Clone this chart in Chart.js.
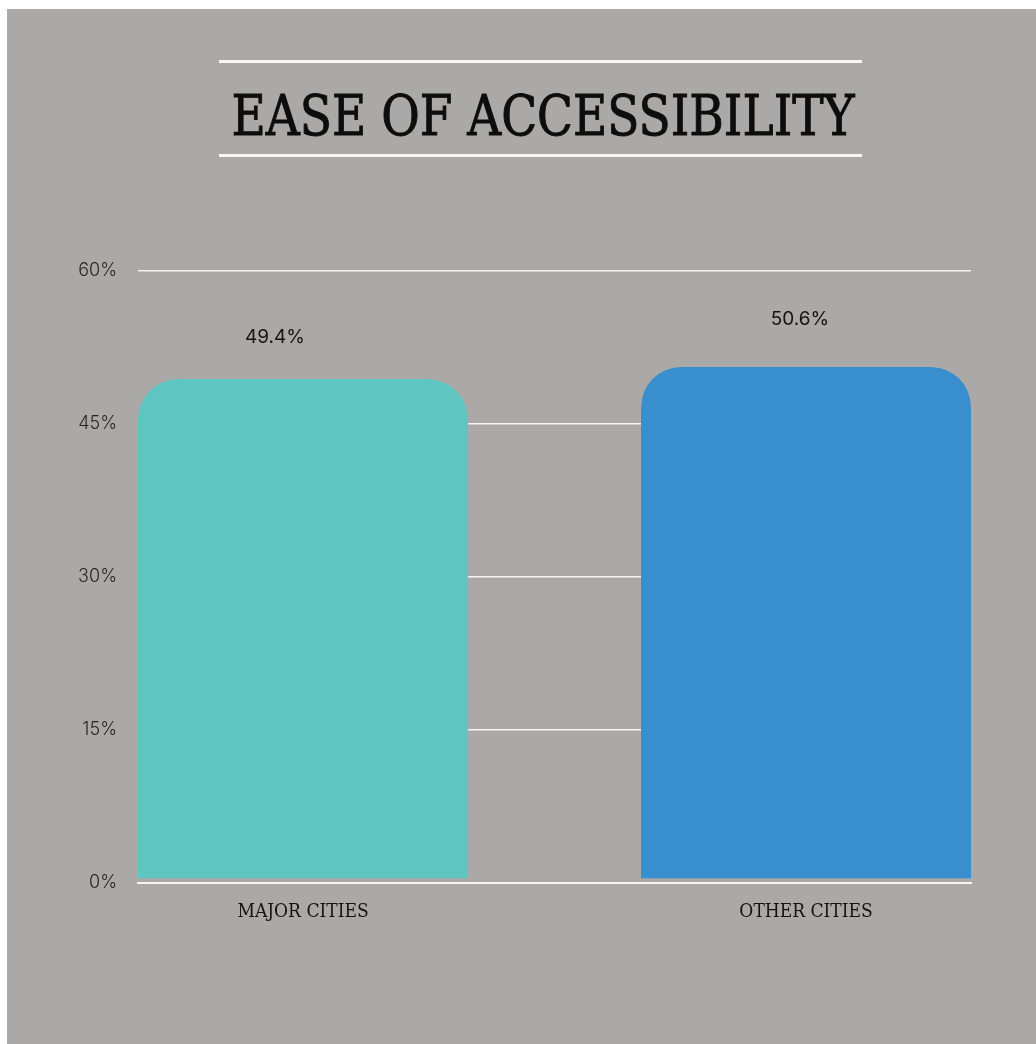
<!DOCTYPE html>
<html>
<head>
<meta charset="utf-8">
<script src="https://cdn.jsdelivr.net/npm/chart.js@4.4.1/dist/chart.umd.min.js"></script>
<style>
  html, body { margin: 0; padding: 0; background: #ffffff; }
  body { width: 1036px; height: 1044px; position: relative; overflow: hidden; }
  #bg { position: absolute; left: 7px; top: 9px; right: 0; bottom: 0; background: #aaa9a7; }
  .rule { position: absolute; left: 219px; width: 643px; height: 3px; background: #f7f7f7; }
  #titleBox { position: absolute; left: 0; width: 1036px; top: 79px; height: 74px; text-align: center; }
  #title { display: inline-block; font-family: 'DejaVu Serif Condensed', 'DejaVu Serif', serif; font-stretch: condensed; font-weight: normal; font-size: 56px; line-height: 74px; color: #0d0d0d; -webkit-text-stroke: 0.9px #0d0d0d; white-space: nowrap; transform-origin: 50% 50%; position: relative; left: 25px; }
  #wrap { position: absolute; left: 0; top: 0; width: 1036px; height: 1044px; }
</style>
</head>
<body>
<div id="bg"></div>
<div class="rule" style="top:60px"></div>
<div class="rule" style="top:154px"></div>
<div id="titleBox"><span id="title">EASE OF ACCESSIBILITY</span></div>
<div id="wrap"><canvas id="c"></canvas></div>
<script>
// ---- data ----
const categories = ['MAJOR CITIES', 'OTHER CITIES'];
const values = [49.4, 50.6];
const valueLabels = ['49.4%', '50.6%'];
const barColors = ['#5fc5c1', '#398ecd'];
const yTicks = [0, 15, 30, 45, 60];

// fit title width
(function () {
  const t = document.getElementById('title');
  const w = t.getBoundingClientRect().width;
  t.style.transform = 'scaleX(' + (623 / w) + ')';
})();

const BG = '#aaa9a7';

const valueLabelPlugin = {
  id: 'valueLabels',
  afterDatasetsDraw(chart, args, opts) {
    const ctx = chart.ctx;
    const meta = chart.getDatasetMeta(0);
    ctx.save();
    ctx.font = '400 19px Inter, "Noto Sans", sans-serif';
    ctx.fillStyle = '#151515';
    ctx.textAlign = 'center';
    ctx.textBaseline = 'middle';
    meta.data.forEach((bar, i) => {
      const off = opts.offsets[i] || { x: 0, y: -45 };
      ctx.fillText(valueLabels[i], bar.x + off.x, bar.y + off.y);
    });
    ctx.restore();
  }
};

new Chart(document.getElementById('c'), {
  type: 'bar',
  data: {
    datasets: [{
      data: categories.map((c, i) => ({ x: i, y: values[i] })),
      backgroundColor: barColors,
      borderColor: BG,
      borderWidth: { top: 0, left: 0, right: 0, bottom: 4 },
      borderSkipped: false,
      borderRadius: { topLeft: 40, topRight: 40, bottomLeft: 0, bottomRight: 0 },
      categoryPercentage: 0.656,
      barPercentage: 1
    }]
  },
  options: {
    responsive: true,
    maintainAspectRatio: false,
    animation: false,
    events: [],
    layout: { padding: { top: 271, right: 65, left: 0, bottom: 0 } },
    plugins: {
      legend: { display: false },
      tooltip: { enabled: false },
      valueLabels: { offsets: [{ x: -28, y: -42 }, { x: -6, y: -48 }] }
    },
    scales: {
      x: {
        type: 'linear',
        min: -0.328,
        max: 1.328,
        offset: false,
        grid: { display: false, drawTicks: false },
        border: { display: true, color: '#f4f4f4', width: 2, z: 1 },
        afterBuildTicks(axis) { axis.ticks = categories.map((c, i) => ({ value: i })); },
        afterFit(axis) { axis.height = 161; },
        ticks: {
          autoSkip: false,
          maxRotation: 0,
          padding: 18,
          color: '#141414',
          font: { family: "'DejaVu Serif Condensed', 'DejaVu Serif', serif", size: 19, style: 'normal condensed' },
          callback: (v) => categories[v]
        }
      },
      y: {
        min: 0,
        max: 60,
        afterBuildTicks(axis) { axis.ticks = yTicks.map(v => ({ value: v })); },
        afterFit(axis) { axis.width = 138; },
        grid: { color: '#f4f4f4', lineWidth: 1.5, drawTicks: false },
        border: { display: false },
        ticks: {
          padding: 21,
          color: '#262626',
          font: { family: 'Inter, "Noto Sans", sans-serif', size: 18, weight: 300 },
          callback: (v) => v + '%'
        }
      }
    }
  },
  plugins: [valueLabelPlugin]
});
</script>
</body>
</html>
